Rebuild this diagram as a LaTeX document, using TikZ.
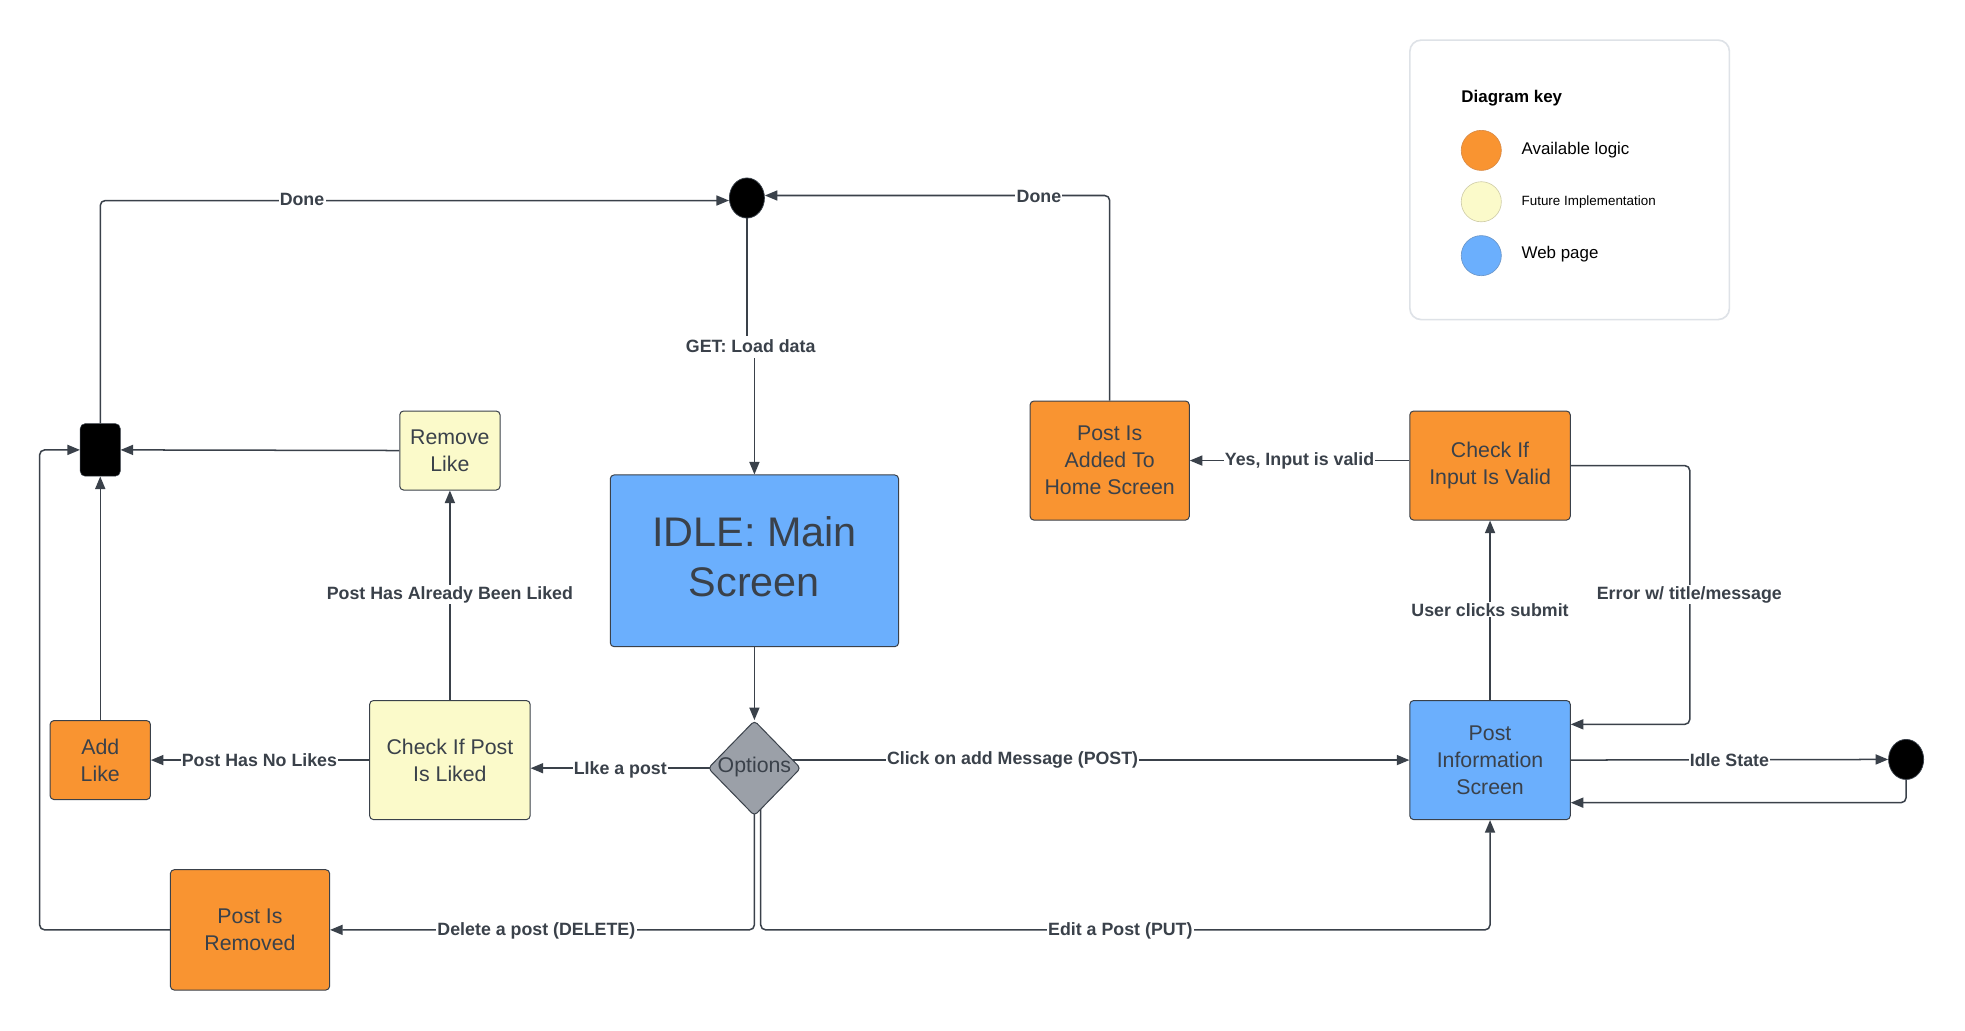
\documentclass[tikz,border=0pt]{standalone}
\usepackage{fontspec}
\setmainfont{Liberation Sans}
\usetikzlibrary{arrows.meta,shapes.geometric,backgrounds,calc}
\definecolor{ln}{HTML}{3A414A}
\definecolor{org}{HTML}{F99431}
\definecolor{orgb}{HTML}{D98A45}
\definecolor{yel}{HTML}{FBFACA}
\definecolor{yelb}{HTML}{CFCDA8}
\definecolor{blu}{HTML}{6BAFFD}
\definecolor{blub}{HTML}{6A95C8}
\definecolor{gry}{HTML}{9BA0A8}
\definecolor{keyb}{HTML}{DEE2E7}
\begin{document}
\begin{tikzpicture}[x=1pt,y=-1pt,
  box/.style={draw=ln, line width=0.8pt, rounded corners=3pt, align=center, text=ln,
    font=\fontsize{17}{21.5}\selectfont, inner sep=0pt},
  orangebox/.style={box, fill=org},
  yellowbox/.style={box, fill=yel},
  bluebox/.style={box, fill=blu},
  dot/.style={ellipse, fill=black, draw=ln, line width=0.6pt, minimum width=28pt, minimum height=32pt, inner sep=0pt},
  line/.style={draw=ln, line width=1.2pt, rounded corners=4pt},
  conn/.style={line, -{Triangle[length=10pt,width=8pt]}},
  lbl/.style={fill=white, font=\bfseries\fontsize{14.2}{16}\selectfont, text=ln, inner sep=1pt, yshift=-1.5pt},
  keydot/.style={circle, minimum size=32pt, inner sep=0pt, line width=0.5pt},
  keytxt/.style={anchor=west, inner sep=0pt, text=black},
]
\useasboundingbox (0,0) rectangle (1568,822);

% legend
\draw[keyb, line width=1.3pt, rounded corners=9pt] (1125,32) rectangle (1380,255);
\node[keytxt, font=\bfseries\fontsize{13.5}{16}\selectfont] (keytitle) at (1166,78) {Diagram key};
\node[keydot, fill=org, draw=orgb] (k1) at (1182,120) {};
\node[keydot, fill=yel, draw=yelb] (k2) at (1182,161) {};
\node[keydot, fill=blu, draw=blub] (k3) at (1182,204) {};
\node[keytxt, font=\fontsize{13.5}{16}\selectfont] (k1t) at (1214,120) {Available logic};
\node[keytxt, font=\fontsize{10.7}{13}\selectfont] (k2t) at (1214,161) {Future Implementation};
\node[keytxt, font=\fontsize{13.5}{16}\selectfont] (k3t) at (1214,203) {Web page};

% nodes
\node[dot] (c1) at (596,158) {};
\node[dot] (endc) at (1521,606) {};
\node[fill=black, draw=ln, rounded corners=4pt, minimum width=32pt, minimum height=42pt, inner sep=0pt] (junc) at (80,359) {};
\node[yellowbox, minimum width=80pt, minimum height=63pt] (rlike) at (359,359.5) {Remove\\Like};
\node[bluebox, minimum width=230pt, minimum height=137pt] (idle) at (602,447.5) {};
\node[text=ln, align=center, font=\fontsize{33}{40}\selectfont, inner sep=0pt] (idlet) at (602,444) {IDLE: Main\\Screen};
\node[orangebox, minimum width=127pt, minimum height=95pt] (added) at (885.5,367.5) {Post Is\\Added To\\Home Screen};
\node[orangebox, minimum width=128pt, minimum height=87pt] (valid) at (1189,371.5) {Check If\\Input Is Valid};
\node[diamond, fill=gry, draw=ln, line width=0.8pt, rounded corners=3pt, minimum width=74pt, minimum height=76pt, inner sep=0pt] (opt) at (602,613) {};
\node[text=ln, font=\fontsize{17}{20}\selectfont, inner sep=0pt] (optt) at (602,612) {Options};
\node[yellowbox, minimum width=128pt, minimum height=95pt] (liked) at (359,606.5) {Check If Post\\Is Liked};
\node[orangebox, minimum width=80pt, minimum height=63pt] (alike) at (80,606.5) {Add\\Like};
\node[orangebox, minimum width=127pt, minimum height=96pt] (removed) at (199.5,742) {Post Is\\Removed};
\node[bluebox, minimum width=128pt, minimum height=95pt] (info) at (1189,606.5) {Post\\Information\\Screen};

% connectors
\begin{scope}[on background layer]
\fill[white] (0,0) rectangle (1568,822);
\draw[line] (c1.center) -- (596,268);
\draw[conn] (602,286) -- (idle.north);
\draw[conn] (idle.south) -- (opt.north);
\draw[conn] (opt.center) -- (opt.center -| liked.east);
\draw[conn] (liked.west) -- (alike.east);
\draw[conn] (liked.north) -- (rlike.south);
\draw[conn] (rlike.west) -- (junc.east);
\draw[conn] (alike.north) -- (junc.south);
\draw[conn] (removed.west) -- ++(-104,0) |- (junc.west);
\draw[conn] (junc.north) |- ($(c1.west)+(0,2)$);
\draw[conn] (added.north) |- ($(c1.east)+(0,-2)$);
\draw[conn] (opt.center) |- (removed.east);
\draw[conn] ($(opt.center)+(5,0)$) |- (removed.east -| info.south) -- (info.south);
\draw[conn] (opt.center |- info.west) -- (info.west);
\draw[conn] (info.north) -- (valid.south);
\draw[conn] (valid.east) -- ++(95,0) |- ($(info.east)+(0,-28.5)$);
\draw[conn] (valid.west |- added.east) -- (added.east);
\draw[conn] (info.east) -- (endc.west);
\draw[conn] (endc.south) |- ($(info.east)+(0,34)$);
\end{scope}

% labels
\node[lbl] (l1) at (241,158) {Done};
\node[lbl] (l2) at (829,155) {Done};
\node[lbl, fill=none] (l3) at (599,275) {GET: Load data};
\node[lbl] (l4) at (1037,366) {Yes, Input is valid};
\node[lbl] (l5) at (359,473) {Post Has Already Been Liked};
\node[lbl] (l6) at (1189,485) {User clicks submit};
\node[lbl] (l7) at (1348,473) {Error w/ title/message};
\node[lbl] (l8) at (207,605) {Post Has No Likes};
\node[lbl] (l9) at (495,613) {LIke a post};
\node[lbl] (l10) at (808,605) {Click on add Message (POST)};
\node[lbl] (l11) at (1380,605) {Idle State};
\node[lbl] (l12) at (428,741) {Delete a post (DELETE)};
\node[lbl] (l13) at (894,741) {Edit a Post (PUT)};
\end{tikzpicture}
\end{document}
